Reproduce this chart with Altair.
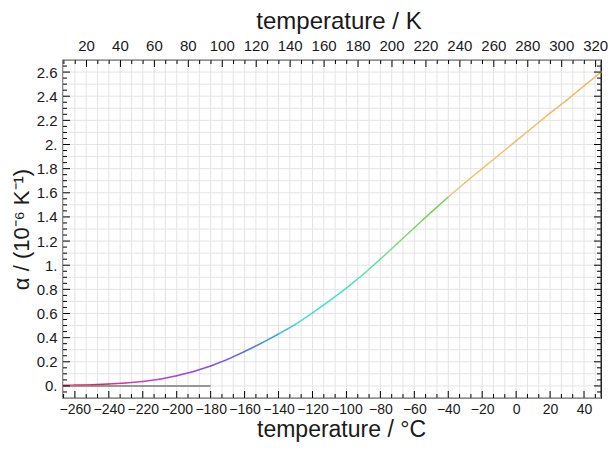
import altair as alt
import pandas as pd
import numpy as np

# ---------------- data ----------------
temp_c = [-267, -260, -250, -240, -230, -220, -210, -200, -190, -180, -170,
          -160, -150, -140, -130, -120, -110, -100, -90, -80, -70, -60, -50,
          -40, -30, -20, -10, 0, 10, 20, 30, 40, 50]
alpha = [0.005, 0.007, 0.010, 0.015, 0.025, 0.037, 0.055, 0.085, 0.12, 0.165, 0.22,
         0.285, 0.355, 0.43, 0.51, 0.605, 0.705, 0.81, 0.925, 1.05, 1.18, 1.31, 1.44,
         1.565, 1.685, 1.80, 1.915, 2.03, 2.145, 2.26, 2.37, 2.485, 2.60]

ref_line_c = [-267, -180]
ref_line_alpha = [0.0, 0.0]

color_stop_c = [-267, -245, -225, -200, -175, -150, -128, -100, -82, -68, -44, -39, 50]
color_stop_hex = ["#ea5a92", "#cc2c62", "#cf42b4", "#a044e0", "#7454e8", "#4a84e2",
                  "#42e0da", "#48e0c4", "#66e0a0", "#86d870", "#74d04c", "#f2c274", "#f4b862"]

x_major_c = list(range(-260, 41, 20))
x_minor_c = [round(v, 3) for v in np.arange(-280, 60, 20 / 3)
             if -267 < v < 50 and abs(v / 20 - round(v / 20)) > 1e-6]
k_major = list(range(20, 321, 20))
k_minor = [round(v, 3) for v in np.arange(0, 330, 20 / 3)
           if 6.15 < v < 323.15 and abs(v / 20 - round(v / 20)) > 1e-6]
y_major = [0, 0.2, 0.4, 0.6, 0.8, 1.0, 1.2, 1.4, 1.6, 1.8, 2.0, 2.2, 2.4, 2.6]
y_minor = [round(v, 2) for v in np.arange(-0.05, 2.70, 0.05) if abs(v / 0.2 - round(v / 0.2)) > 1e-6]
grid_c = [round(v, 3) for v in np.arange(-280, 60, 20 / 3) if -267 < v < 50]
grid_y = [round(v, 1) for v in np.arange(-0.1, 2.71, 0.1)]

X_DOMAIN_C = [-267.0, 50.0]
Y_DOMAIN = [-0.1, 2.7]
K_OFFSET = 273.15

# ---------------- layout / style ----------------
W, H = 538, 338
FONT = "Liberation Sans"
TXT = "#1a1a1a"

xc = alt.Scale(domain=X_DOMAIN_C, nice=False, zero=False)
ys = alt.Scale(domain=Y_DOMAIN, nice=False, zero=False)

seg = pd.DataFrame({
    "c1": temp_c[:-1], "c2": temp_c[1:],
    "a1": alpha[:-1], "a2": alpha[1:],
})
seg["cm"] = (seg["c1"] + seg["c2"]) / 2

ref_df = pd.DataFrame({"c": ref_line_c, "a": ref_line_alpha})

x_axis = alt.Axis(orient="bottom", values=x_major_c, ticks=False, grid=False, domain=False,
                  labelFont=FONT, labelFontSize=14, labelColor=TXT, labelPadding=4,
                  labelOverlap=False, labelFlush=False,
                  title="temperature / °C", titleFont=FONT, titleFontSize=23,
                  titleFontWeight="normal", titleColor=TXT, titlePadding=2,
                  titleX=W / 2 + 9, titleAlign="center")
y_axis = alt.Axis(orient="left", values=y_major, ticks=False, grid=False, domain=False,
                  labelExpr="abs(datum.value - round(datum.value)) < 1e-9 ? format(datum.value, 'd') + '.' : format(datum.value, '.1f')",
                  labelFont=FONT, labelFontSize=15, labelColor=TXT, labelPadding=6,
                  labelOverlap=False, labelFlush=False,
                  title="α / (10⁻⁶ K⁻¹)", titleFont=FONT, titleFontSize=22,
                  titleFontWeight="normal", titleColor=TXT, titlePadding=3)


def X(field):
    return alt.X(field, scale=xc, axis=x_axis)


def Y(field):
    return alt.Y(field, scale=ys, axis=y_axis)


# grid
grid_v = alt.Chart(pd.DataFrame({"c": grid_c})).mark_rule(color="#e4e4e4", strokeWidth=1).encode(
    x=X("c:Q"), y=alt.value(0), y2=alt.value(H))
grid_h = alt.Chart(pd.DataFrame({"v": grid_y})).mark_rule(color="#e4e4e4", strokeWidth=1).encode(
    y=Y("v:Q"), x=alt.value(0), x2=alt.value(W))

# data
ref = alt.Chart(ref_df).mark_line(color="#7a7a7a", strokeWidth=1.5).encode(
    x=X("c:Q"), y=Y("a:Q"))
curve = alt.Chart(seg).mark_rule(strokeWidth=1.5, strokeCap="round").encode(
    x=X("c1:Q"), x2="c2:Q",
    y=Y("a1:Q"), y2="a2:Q",
    color=alt.Color("cm:Q", scale=alt.Scale(domain=color_stop_c, range=color_stop_hex, interpolate="rgb"),
                    legend=None))


# ticks (inward)
def xticks(vals, length, top, kelvin=False):
    base = alt.Chart(pd.DataFrame({"t": vals}))
    if kelvin:
        base = base.transform_calculate(t=f"datum.t - {K_OFFSET}")
    return base.mark_rule(color="black", strokeWidth=1).encode(
        x=X("t:Q"),
        y=alt.value(0 if top else H), y2=alt.value(length if top else H - length))


def yticks(vals, length, right):
    return alt.Chart(pd.DataFrame({"t": vals})).mark_rule(color="black", strokeWidth=1).encode(
        y=Y("t:Q"),
        x=alt.value(W if right else 0), x2=alt.value(W - length if right else length))


# top (kelvin) labels and title
top_labels = alt.Chart(pd.DataFrame({"k": k_major})).transform_calculate(
    c=f"datum.k - {K_OFFSET}"
).mark_text(font=FONT, fontSize=15, color=TXT, baseline="bottom", align="center").encode(
    x=X("c:Q"), y=alt.value(-6), text=alt.Text("k:Q", format="d"))

top_title = alt.Chart(pd.DataFrame({"t": ["temperature / K"]})).mark_text(
    font=FONT, fontSize=24, color=TXT, baseline="top", align="center").encode(
    x=alt.value(W / 2 + 7), y=alt.value(-50), text="t:N")

chart = alt.layer(
    grid_v, grid_h, ref, curve,
    xticks(x_major_c, 7, False), xticks(x_minor_c, 4, False),
    xticks(k_major, 7, True, True), xticks(k_minor, 4, True, True),
    yticks(y_major, 7, False), yticks(y_minor, 4, False),
    yticks(y_major, 7, True), yticks(y_minor, 4, True),
    top_labels, top_title,
).properties(
    width=W, height=H,
    autosize=alt.AutoSizeParams(type="none"),
    padding={"left": 55, "top": 52, "right": 7, "bottom": 46},
).configure_view(stroke="black", strokeWidth=1.3)

chart.save("out.html", embed_options={"renderer": "svg", "actions": False})
